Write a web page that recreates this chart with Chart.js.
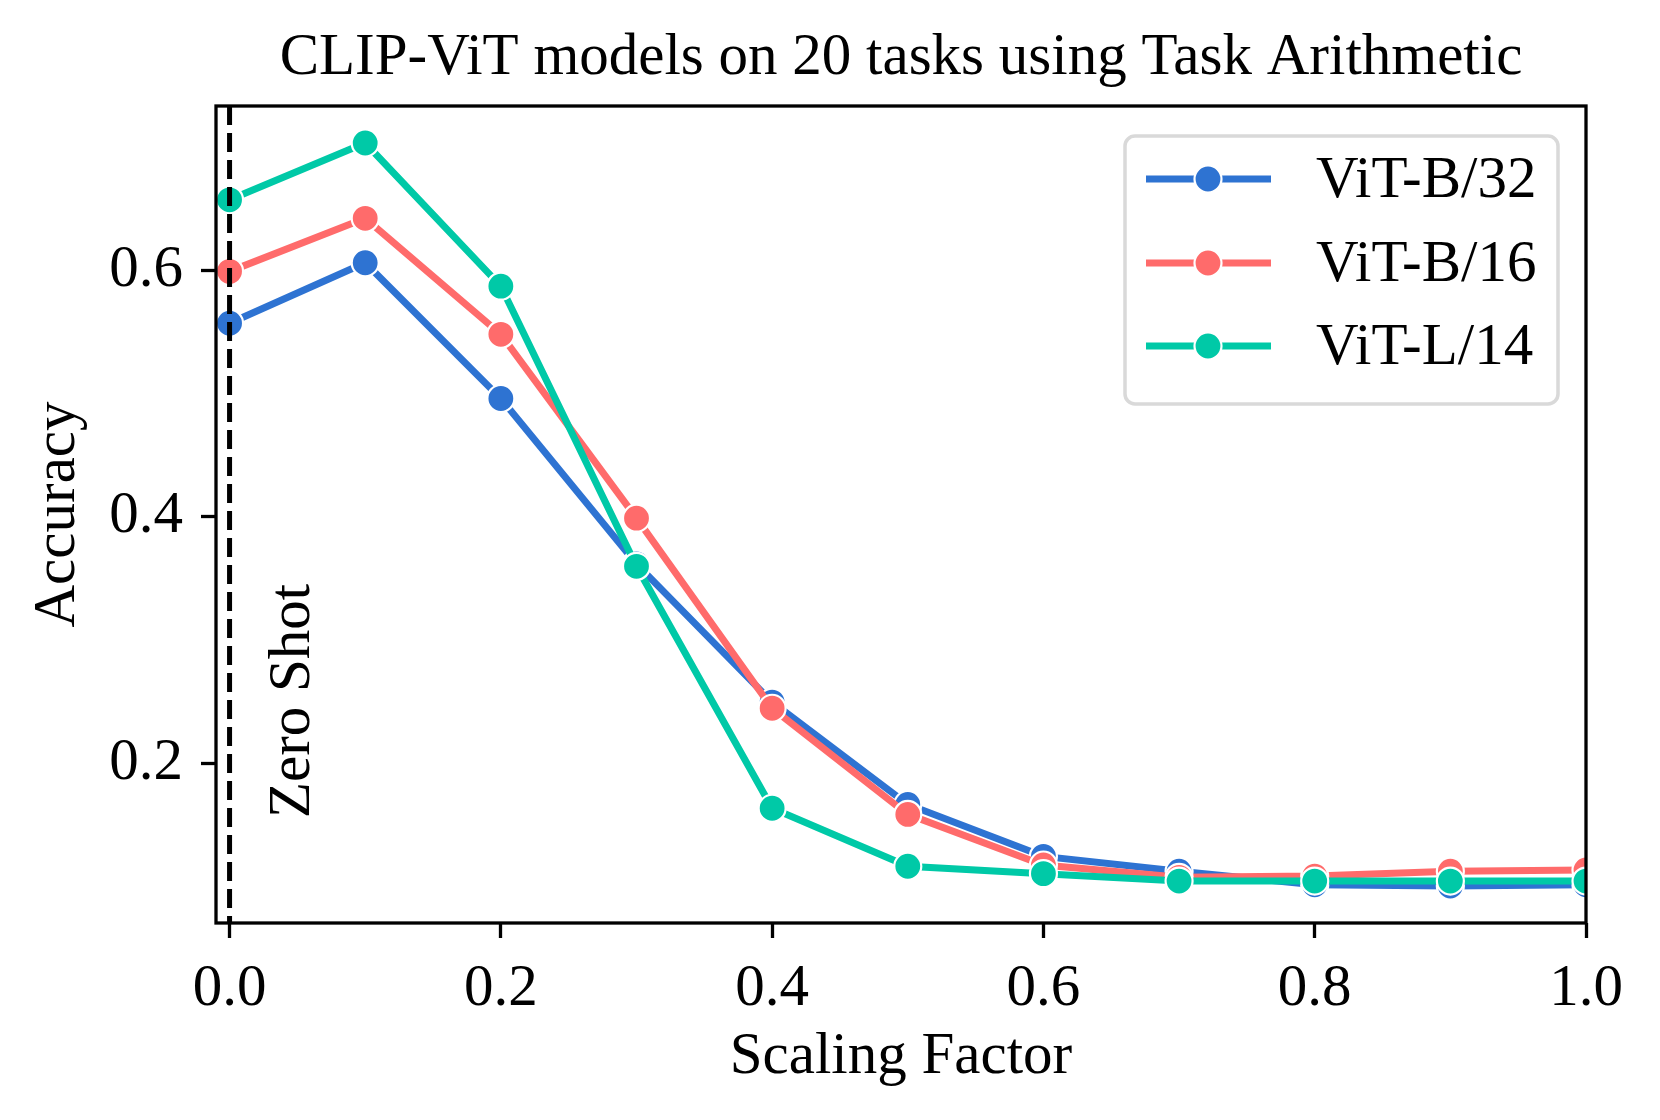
<!DOCTYPE html>
<html>
<head>
<meta charset="utf-8">
<script src="https://cdn.jsdelivr.net/npm/chart.js@4.4.1/dist/chart.umd.min.js"></script>
<style>
  html, body { margin: 0; padding: 0; background: #fff; }
  #wrap { width: 1660px; height: 1120px; }
</style>
</head>
<body>
<div id="wrap"><canvas id="chart" width="1660" height="1120"></canvas></div>
<script>
// values
const scalingFactors = [0.0, 0.1, 0.2, 0.3, 0.4, 0.5, 0.6, 0.7, 0.8, 0.9, 1.0];
const vitB32 = [0.557, 0.606, 0.496, 0.362, 0.250, 0.167, 0.125, 0.113, 0.102, 0.101, 0.102];
const vitB16 = [0.599, 0.642, 0.548, 0.399, 0.245, 0.159, 0.118, 0.108, 0.109, 0.113, 0.114];
const vitL14 = [0.657, 0.703, 0.587, 0.360, 0.164, 0.117, 0.111, 0.105, 0.105, 0.105, 0.105];
const seriesNames = ["ViT-B/32", "ViT-B/16", "ViT-L/14"];
const seriesColors = ["#2e73d2", "#ff6b6b", "#00c9a7"];
const xTicks = [0.0, 0.2, 0.4, 0.6, 0.8, 1.0];
const yTicks = [0.2, 0.4, 0.6];
const titleText = "CLIP-ViT models on 20 tasks using Task Arithmetic";
const zeroShotText = "Zero Shot";

const FAMILY = "'Liberation Serif', 'Times New Roman', serif";
const font = { family: FAMILY, size: 59 };

function makeDataset(name, values, color, order) {
    return {
        label: name,
        data: scalingFactors.map((x, i) => ({ x: x, y: values[i] })),
        borderColor: color,
        backgroundColor: color,
        borderWidth: 7,
        pointRadius: 13.5,
        pointHoverRadius: 13.5,
        pointBorderColor: "#fff",
        pointBorderWidth: 2.2,
        pointBackgroundColor: color,
        tension: 0,
        clip: 0,
        order: order
    };
}

const decorations = {
    id: "decorations",
    afterDatasetsDraw(chart) {
        const { ctx, chartArea: a, scales: { x, y } } = chart;
        ctx.save();
        // zero shot marker line
        const x0 = x.getPixelForValue(0);
        ctx.strokeStyle = "#000";
        ctx.lineWidth = 5;
        ctx.setLineDash([19, 8]);
        ctx.beginPath();
        ctx.moveTo(x0, a.top);
        ctx.lineTo(x0, a.bottom);
        ctx.stroke();
        ctx.setLineDash([]);

        // frame
        ctx.lineWidth = 3.3;
        ctx.strokeRect(a.left, a.top, a.right - a.left, a.bottom - a.top);

        // rotated label
        ctx.font = "59px " + FAMILY;
        ctx.fillStyle = "#000";
        ctx.translate(x.getPixelForValue(0.047), y.getPixelForValue(0.156));
        ctx.rotate(-Math.PI / 2);
        ctx.textAlign = "left";
        ctx.textBaseline = "middle";
        ctx.fillText(zeroShotText, 0, 0);
        ctx.restore();
    },
    afterDraw(chart) {
        const { ctx, chartArea: a } = chart;
        ctx.save();
        // title
        ctx.font = "59px " + FAMILY;
        ctx.fillStyle = "#000";
        ctx.textAlign = "center";
        ctx.textBaseline = "middle";
        ctx.fillText(titleText, (a.left + a.right) / 2, 58);

        // legend box
        const bx = 1125, by = 136, bw = 433, bh = 268, r = 10;
        ctx.beginPath();
        ctx.roundRect(bx, by, bw, bh, r);
        ctx.fillStyle = "rgba(255,255,255,0.8)";
        ctx.fill();
        ctx.strokeStyle = "#d9d9d9";
        ctx.lineWidth = 3.5;
        ctx.stroke();

        const rows = [179, 263, 346];
        seriesNames.forEach((name, i) => {
            const yy = rows[i];
            ctx.strokeStyle = seriesColors[i];
            ctx.lineWidth = 7;
            ctx.beginPath();
            ctx.moveTo(1146, yy);
            ctx.lineTo(1271, yy);
            ctx.stroke();
            ctx.beginPath();
            ctx.arc(1208, yy, 13.5, 0, Math.PI * 2);
            ctx.fillStyle = seriesColors[i];
            ctx.fill();
            ctx.strokeStyle = "#fff";
            ctx.lineWidth = 2.2;
            ctx.stroke();
            ctx.fillStyle = "#000";
            ctx.textAlign = "left";
            ctx.textBaseline = "middle";
            ctx.fillText(name, 1316, yy + 2);
        });
        ctx.restore();
    }
};

new Chart(document.getElementById("chart"), {
    type: "line",
    data: {
        datasets: [
            makeDataset(seriesNames[0], vitB32, seriesColors[0], 3),
            makeDataset(seriesNames[1], vitB16, seriesColors[1], 2),
            makeDataset(seriesNames[2], vitL14, seriesColors[2], 1)
        ]
    },
    options: {
        responsive: false,
        devicePixelRatio: 1,
        animation: false,
        layout: { padding: { top: 106, right: 74, left: 0, bottom: 0 } },
        plugins: {
            legend: { display: false },
            title: { display: false },
            tooltip: { enabled: false }
        },
        scales: {
            x: {
                type: "linear",
                min: -0.01,
                max: 1.0,
                afterBuildTicks: s => { s.ticks = xTicks.map(v => ({ value: v })); },
                afterFit: s => { s.height = 197; },
                ticks: { font: font, color: "#000", padding: 16, maxRotation: 0, callback: v => v.toFixed(1) },
                grid: { drawOnChartArea: false, drawTicks: true, tickLength: 15, tickWidth: 3.3, tickColor: "#000" },
                border: { display: false },
                title: { display: true, text: "Scaling Factor", font: font, color: "#000", padding: { top: 0, bottom: 27 } }
            },
            y: {
                type: "linear",
                min: 0.071,
                max: 0.733,
                afterBuildTicks: s => { s.ticks = yTicks.map(v => ({ value: v })); },
                afterFit: s => { s.width = 216; },
                ticks: { font: font, color: "#000", padding: 18, callback: v => v.toFixed(1) },
                grid: { drawOnChartArea: false, drawTicks: true, tickLength: 15, tickWidth: 3.3, tickColor: "#000" },
                border: { display: false },
                title: { display: true, text: "Accuracy", font: font, color: "#000", padding: { top: 23, bottom: 0 } }
            }
        }
    },
    plugins: [decorations]
});
</script>
</body>
</html>
